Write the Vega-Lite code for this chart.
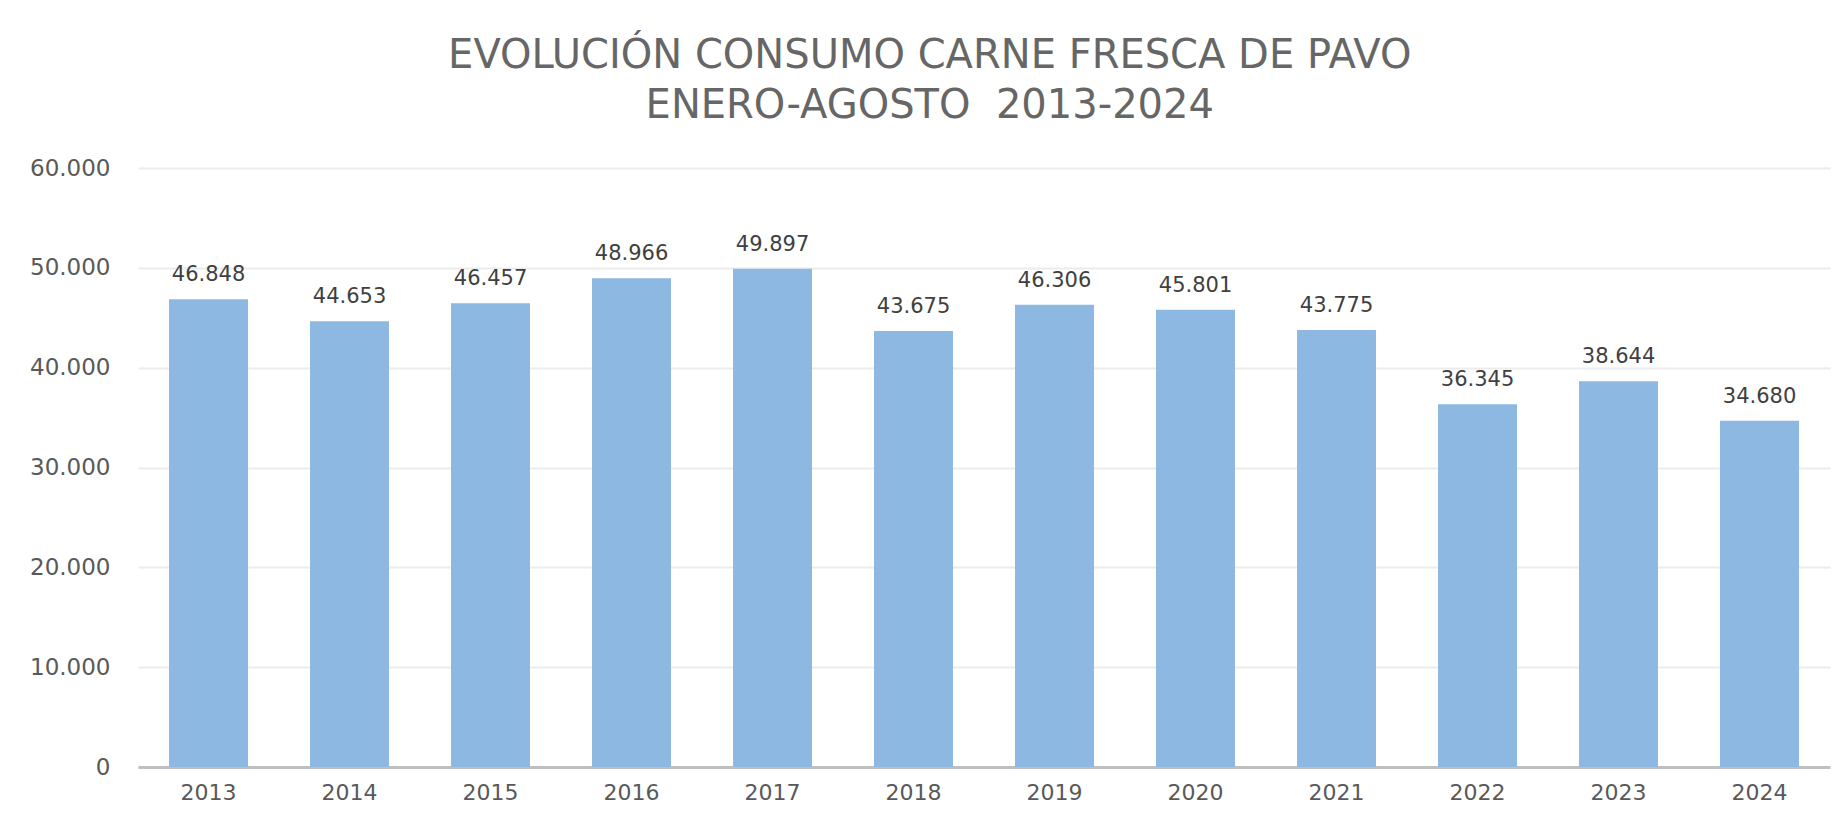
{
  "$schema": "https://vega.github.io/schema/vega-lite/v6.json",
  "width": 1692,
  "height": 599,
  "autosize": {"type": "none"},
  "padding": {"left": 138, "top": 168, "right": 9, "bottom": 54},
  "background": "white",
  "title": {
    "text": ["EVOLUCIÓN CONSUMO CARNE FRESCA DE PAVO", "ENERO-AGOSTO \u00a02013-2024"],
    "anchor": "middle",
    "frame": "bounds",
    "font": "DejaVu Sans",
    "fontSize": 40,
    "fontWeight": "normal",
    "color": "#666666",
    "lineHeight": 50,
    "offset": 31
  },
  "data": {
    "values": [
      {"year": "2013", "value": 46848},
      {"year": "2014", "value": 44653},
      {"year": "2015", "value": 46457},
      {"year": "2016", "value": 48966},
      {"year": "2017", "value": 49897},
      {"year": "2018", "value": 43675},
      {"year": "2019", "value": 46306},
      {"year": "2020", "value": 45801},
      {"year": "2021", "value": 43775},
      {"year": "2022", "value": 36345},
      {"year": "2023", "value": 38644},
      {"year": "2024", "value": 34680}
    ]
  },
  "encoding": {
    "x": {
      "field": "year",
      "type": "nominal",
      "sort": null,
      "scale": {"paddingInner": 0.44, "paddingOuter": 0.22},
      "axis": {
        "title": null,
        "labelAngle": 0,
        "ticks": false,
        "domain": true,
        "domainColor": "#bfbfbf",
        "domainWidth": 3,
        "labelFont": "DejaVu Sans",
        "labelFontSize": 22,
        "labelColor": "#595959",
        "labelPadding": 15
      }
    },
    "y": {
      "field": "value",
      "type": "quantitative",
      "scale": {"domain": [0, 60000], "nice": false},
      "axis": {
        "title": null,
        "values": [0, 10000, 20000, 30000, 40000, 50000, 60000],
        "format": ",d",
        "domain": false,
        "ticks": false,
        "grid": true,
        "gridColor": "#ececec",
        "gridWidth": 2,
        "labelFont": "DejaVu Sans",
        "labelFontSize": 23,
        "labelColor": "#595959",
        "labelPadding": 28
      }
    }
  },
  "layer": [
    {"mark": {"type": "bar", "color": "#8cb8e1"}},
    {
      "mark": {
        "type": "text",
        "baseline": "bottom",
        "dy": -14,
        "font": "DejaVu Sans",
        "fontSize": 21,
        "color": "#404040"
      },
      "encoding": {"text": {"field": "value", "type": "quantitative", "format": ",d"}}
    }
  ],
  "config": {
    "locale": {
      "number": {"decimal": ",", "thousands": ".", "grouping": [3], "currency": ["", " €"]}
    },
    "view": {"stroke": null}
  }
}
